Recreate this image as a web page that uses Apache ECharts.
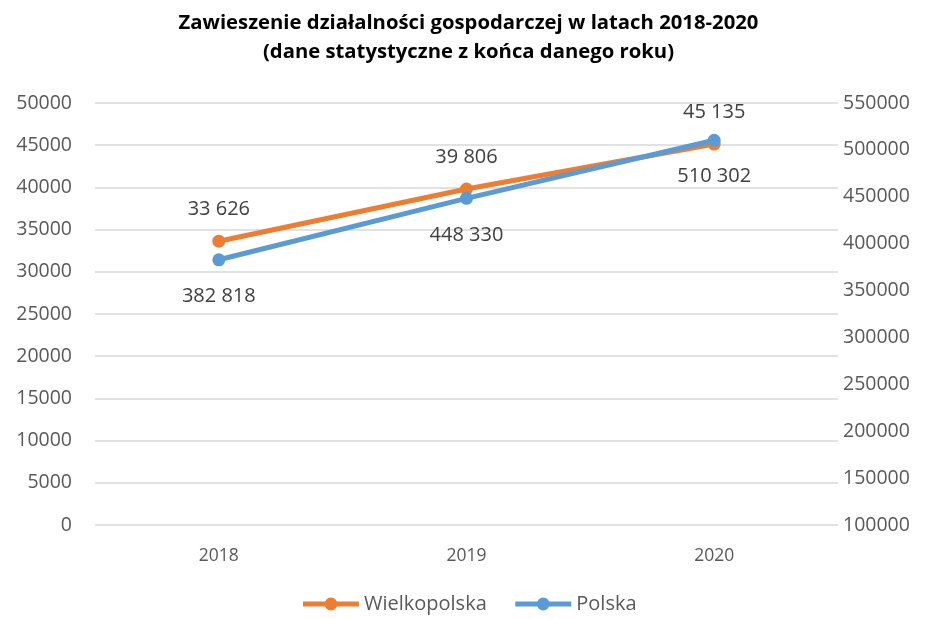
<!DOCTYPE html>
<html><head><meta charset="utf-8">
<script src="https://cdn.jsdelivr.net/npm/echarts@6/dist/echarts.min.js"></script>
<style>html,body{margin:0;padding:0;background:#fff}#c{width:937px;height:619px}</style>
</head><body><div id="c"></div>
<script>
const categories = ['2018', '2019', '2020'];
const wielkopolska = [33626, 39806, 45135];
const polska = [382818, 448330, 510302];
const seriesNames = ['Wielkopolska', 'Polska'];
const titleLines = ['Zawieszenie działalności gospodarczej w latach 2018-2020', '(dane statystyczne z końca danego roku)'];

const fmt = v => String(v).replace(/\B(?=(\d{3})+(?!\d))/g, ' ');
const font = 'Open Sans';
const chart = echarts.init(document.getElementById('c'));
chart.setOption({
  animation: false,
  title: {
    text: titleLines.join('\n'), left: 'center', top: 4,
    textStyle: {fontFamily: font, fontWeight: 'bold', fontSize: 20.3, color: '#000', lineHeight: 29}
  },
  legend: {
    bottom: 0, left: 'center', itemWidth: 56, itemHeight: 16, itemGap: 26,
    textStyle: {fontFamily: font, fontSize: 20, color: '#595959'},
    lineStyle: {width: 5},
    data: seriesNames
  },
  grid: {left: 95, right: 99, top: 103, bottom: 94},
  xAxis: {
    type: 'category', data: categories, boundaryGap: true,
    axisLine: {show: false}, axisTick: {show: false},
    axisLabel: {fontFamily: font, fontSize: 17.5, color: '#595959', margin: 22}
  },
  yAxis: [
    {type: 'value', min: 0, max: 50000, interval: 5000, position: 'left',
     axisLine: {show: false}, axisTick: {show: false},
     axisLabel: {fontFamily: font, fontSize: 19.5, color: '#595959', margin: 23, formatter: v => String(v)},
     splitLine: {lineStyle: {color: '#d9d9d9', width: 1.5}}},
    {type: 'value', min: 100000, max: 550000, interval: 50000, position: 'right',
     axisLine: {show: false}, axisTick: {show: false},
     axisLabel: {fontFamily: font, fontSize: 19.5, color: '#595959', margin: 5, formatter: v => String(v)},
     splitLine: {show: false}}
  ],
  series: [
    {name: seriesNames[0], type: 'line', yAxisIndex: 0, data: wielkopolska,
     symbol: 'circle', symbolSize: 13, z: 3,
     lineStyle: {color: '#ed7d31', width: 5}, itemStyle: {color: '#ed7d31'},
     label: {show: true, position: 'top', distance: 15, formatter: p => fmt(p.value),
             fontFamily: font, fontSize: 20, color: '#404040'}},
    {name: seriesNames[1], type: 'line', yAxisIndex: 1, data: polska,
     symbol: 'circle', symbolSize: 13, z: 4,
     lineStyle: {color: '#5b9bd5', width: 5}, itemStyle: {color: '#5b9bd5'},
     label: {show: true, position: 'bottom', distance: 20, formatter: p => fmt(p.value),
             fontFamily: font, fontSize: 20, color: '#404040'}}
  ]
});
</script></body></html>
